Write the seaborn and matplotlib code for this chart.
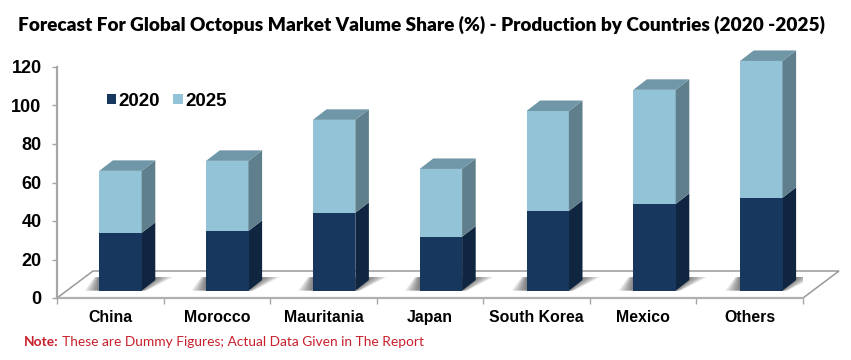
import numpy as np
import pandas as pd
import matplotlib
matplotlib.use("Agg")
import matplotlib.pyplot as plt
import seaborn as sns

countries = ["China", "Morocco", "Mauritania", "Japan", "South Korea", "Mexico", "Others"]
share_2020 = [30.0, 31.0, 40.4, 28.0, 41.4, 45.0, 48.2]
share_2025 = [32.2, 36.4, 48.3, 35.2, 51.9, 59.3, 71.1]
y_ticks = [0, 20, 40, 60, 80, 100, 120]

C20, C20S = "#17375E", "#0F2540"
C25, C25S, C25T = "#93C3D6", "#5F7F8C", "#6F97A8"
GRAY = "#A6A6A6"
W, H = 851, 360

sns.set_theme(style="white")
fig = plt.figure(figsize=(W / 100, H / 100), dpi=100, facecolor="white")
ax = fig.add_axes([57 / W, 1 - 298 / H, (803 - 57) / W, (298 - 67) / H])
ax.set_facecolor("none")

df = pd.DataFrame({"country": countries, "y20": share_2020, "y25": share_2025})
df["total"] = df.y20 + df.y25

PXX = 106.8              # pixels per category
PXY = (298 - 67) / 120   # pixels per unit
BASE = 7.4 / PXY         # bars stand on the floor, slightly above the axis zero
BW = 42.4 / PXX
DX, DY = 13.6 / PXX, 10.5 / PXY

sns.barplot(df, x="country", y="total", order=countries, color=C25, saturation=1, width=BW,
            bottom=BASE, label="2025", ax=ax, zorder=4, linewidth=0, legend=False, clip_on=False)
sns.barplot(df, x="country", y="y20", order=countries, color=C20, saturation=1, width=BW,
            bottom=BASE, label="2020", ax=ax, zorder=5, linewidth=0, legend=False, clip_on=False)

xl = -(120.5 - 57) / PXX
xr = (803 - 120.5) / PXX
ax.set_xlim(xl, xr)
ax.set_ylim(0, 120)

# floor of the 3D box
fx, fy = 36 / PXX, 27 / PXY
ax.fill([xl, xr, xr + fx, xl + fx], [0, 0, fy, fy], facecolor="white", edgecolor="#999999", lw=1.1,
        clip_on=False, zorder=1)

for i, (a, t) in enumerate(zip(share_2020, df.total)):
    l, r = i - BW / 2, i + BW / 2
    a0, t0 = BASE + a, BASE + t
    # side faces
    ax.fill([r, r + DX, r + DX, r], [BASE, BASE + DY, a0 + DY, a0], color=C20S, lw=0, zorder=4, clip_on=False)
    ax.fill([r, r + DX, r + DX, r], [a0, a0 + DY, t0 + DY, t0], color=C25S, lw=0, zorder=4, clip_on=False)
    # top face
    ax.fill([l, r, r + DX, l + DX], [t0, t0, t0 + DY, t0 + DY], color=C25T, lw=0, zorder=4, clip_on=False)
    # soft shadow on the floor, fading away from the bar on both sides
    n = 14
    for k in range(n):
        s = 1 - k / n
        top_y = BASE + 13.5 / PXY
        ax.fill([l - (15 / PXX) * s, r + (5 / PXX) * s, r + DX + (18 / PXX) * s, l - (5 / PXX) * s],
                [BASE, BASE, top_y, top_y],
                color="#303030", alpha=0.06, lw=0, zorder=2)

# axes styling
for s in ("top", "right"):
    ax.spines[s].set_visible(False)
ax.spines["left"].set_color(GRAY)
ax.spines["left"].set_linewidth(1.6)
ax.spines["bottom"].set_color("#B0B0B0")
ax.spines["bottom"].set_linewidth(1.6)
ax.spines["bottom"].set_zorder(1.5)

ax.set_xlabel("")
ax.set_ylabel("")
ax.set_yticks(y_ticks)
ax.set_yticklabels([str(v) for v in y_ticks], fontfamily="Liberation Sans", fontweight="bold",
                   fontsize=13, color="black")
ax.tick_params(axis="y", left=True, length=3.6, width=1, color=GRAY, pad=7.5)

centers = [xl + (i + 0.5) * (xr - xl) / 7 for i in range(7)]
ax.set_xticks(centers)
ax.set_xticklabels(countries, fontfamily="Liberation Sans", fontweight="bold", fontsize=11.4, color="black")
ax.tick_params(axis="x", which="major", bottom=False, length=0, pad=8.5)
ax.set_xticks([xl + i * (xr - xl) / 7 for i in range(8)], minor=True)
ax.tick_params(axis="x", which="minor", bottom=True, length=4, width=1, color=GRAY)

# legend
h, lab = ax.get_legend_handles_labels()
order = [lab.index("2020"), lab.index("2025")]
leg = ax.legend([h[i] for i in order], [lab[i] for i in order], frameon=False, ncol=2,
                loc="center left", bbox_to_anchor=(107 / W, 1 - 101 / H),
                bbox_transform=fig.transFigure, borderpad=0, borderaxespad=0,
                handlelength=0.5, handleheight=0.5, handletextpad=0.12, columnspacing=0.7,
                labelcolor="black",
                prop={"family": "Liberation Sans", "weight": "bold", "size": 13.5})
leg.set_zorder(10)

fig.text(421 / W, 1 - 25 / H,
         "Forecast For Global Octopus Market Valume Share (%) - Production by Countries (2020 -2025)",
         ha="center", va="center", fontfamily="Lato", fontweight="heavy", fontsize=13.7, color="black")

note = fig.text(24 / W, 1 - 342 / H, "Note:", ha="left", va="center", fontfamily="Lato",
                fontweight="bold", fontsize=9.9, color="#C8202C")
fig.canvas.draw()
bb = note.get_window_extent()
fig.text((bb.x1 + 3) / W, 1 - 342 / H, "These are Dummy Figures; Actual Data Given in The Report",
         ha="left", va="center", fontfamily="Lato", fontsize=9.9, color="#C8202C")

fig.savefig("out.png", dpi=100, facecolor="white")
